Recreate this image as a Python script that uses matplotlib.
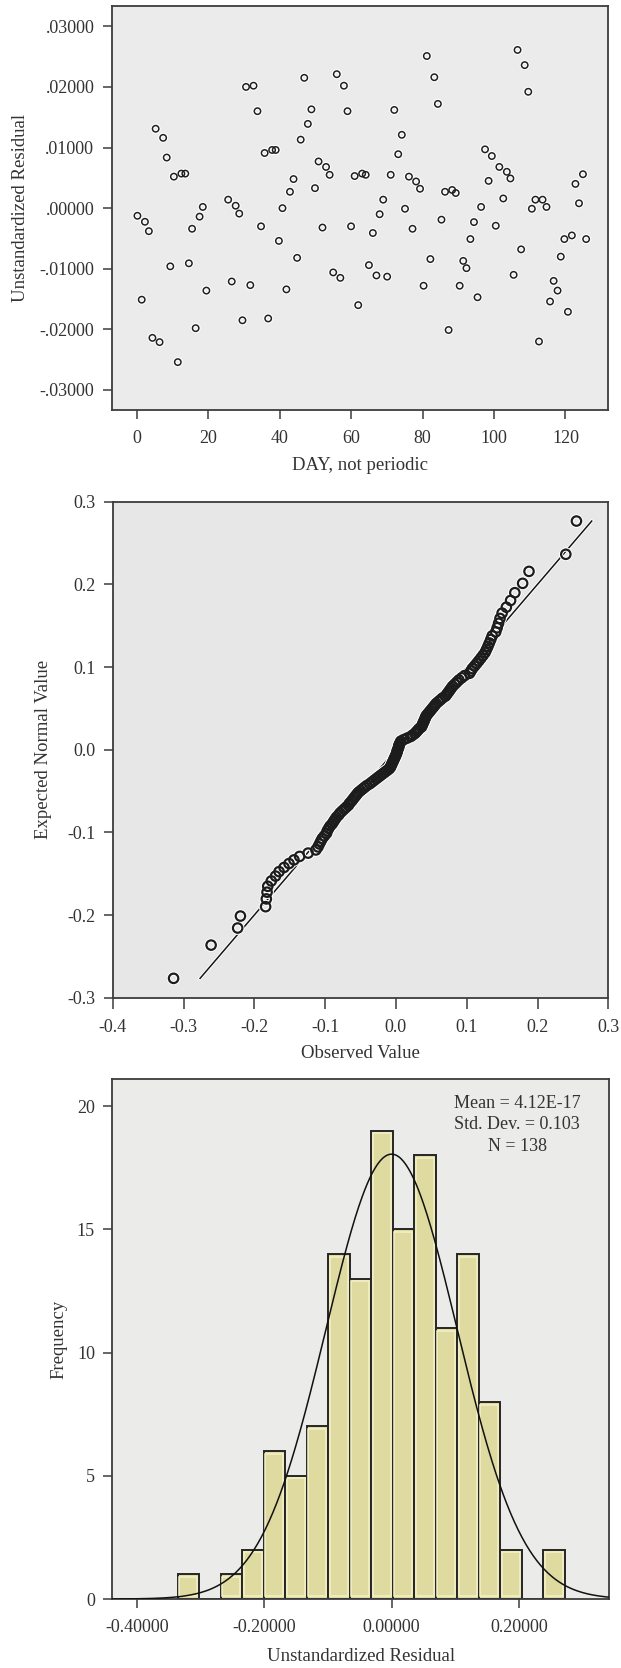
import matplotlib
matplotlib.use("Agg")
import matplotlib.pyplot as plt
import matplotlib.patheffects as pe
from matplotlib.ticker import FuncFormatter
import numpy as np
from statistics import NormalDist

plt.rcParams['font.family'] = ['Liberation Serif', 'DejaVu Serif']

# ---------------- Panel 1: residuals vs day ----------------
day = [0.2, 1.4, 2.3, 3.4, 4.4, 5.3, 6.4, 7.4, 8.4, 9.4,
       10.4, 11.5, 12.5, 13.6, 14.6, 15.5, 16.5, 17.6, 18.5, 19.5,
       25.6, 26.6, 27.7, 28.7, 29.6, 30.6, 31.8, 32.7, 33.8, 34.8,
       35.8, 36.8, 37.9, 38.9, 39.8, 40.8, 41.9, 42.9, 43.9, 44.9,
       45.9, 46.9, 47.9, 48.9, 49.9, 50.9, 52.0, 53.0, 54.0, 55.0,
       56.0, 57.0, 58.0, 59.0, 60.0, 61.0, 62.0, 63.1, 64.1, 65.0,
       66.1, 67.1, 68.0, 69.0, 70.1, 71.1, 72.1, 73.2, 74.2, 75.1,
       76.2, 77.2, 78.2, 79.3, 80.3, 81.2, 82.2, 83.3, 84.3, 85.3,
       86.3, 87.3, 88.3, 89.3, 90.4, 91.4, 92.3, 93.4, 94.4, 95.4,
       96.4, 97.5, 98.5, 99.4, 100.5, 101.5, 102.6, 103.6, 104.6, 105.5,
       106.6, 107.6, 108.6, 109.6, 110.6, 111.6, 112.6, 113.6, 114.7, 115.7,
       116.7, 117.8, 118.7, 119.7, 120.7, 121.8, 122.8, 123.8, 124.9, 125.8]
resid_day = [-0.00126, -0.0151, -0.00225, -0.0038, -0.0214, 0.0131, -0.0221, 0.0116, 0.00835, -0.0096,
             0.0052, -0.0254, 0.0057, 0.0057, -0.0091, -0.0034, -0.0198, -0.0014, 0.0002, -0.0136,
             0.0014, -0.0121, 0.0004, -0.0009, -0.0185, 0.0200, -0.0127, 0.0202, 0.0160, -0.0030,
             0.0091, -0.0182, 0.0096, 0.0096, -0.0054, 0.0000, -0.0134, 0.0027, 0.0048, -0.0082,
             0.0113, 0.0215, 0.0139, 0.0163, 0.0033, 0.0077, -0.0032, 0.0068, 0.0055, -0.0106,
             0.0221, -0.0115, 0.0202, 0.0160, -0.0030, 0.0053, -0.0160, 0.0057, 0.0055, -0.0094,
             -0.0041, -0.0111, -0.0010, 0.0014, -0.0113, 0.0055, 0.0162, 0.0089, 0.0121, -0.0001,
             0.0052, -0.0034, 0.0044, 0.0032, -0.0128, 0.0251, -0.0084, 0.0216, 0.0172, -0.0019,
             0.0027, -0.0201, 0.0030, 0.0025, -0.0128, -0.0087, -0.0099, -0.0051, -0.0023, -0.0147,
             0.0002, 0.0097, 0.0045, 0.0086, -0.0029, 0.0068, 0.0016, 0.0060, 0.0049, -0.0110,
             0.0261, -0.0068, 0.0236, 0.0192, -0.0001, 0.0014, -0.0220, 0.0014, 0.0002, -0.0154,
             -0.0120, -0.0136, -0.0080, -0.0051, -0.0171, -0.0045, 0.0040, 0.0008, 0.0056, -0.0051]
day_xticks = [0, 20, 40, 60, 80, 100, 120]
day_yticks = [-0.03, -0.02, -0.01, 0.0, 0.01, 0.02, 0.03]

# ---------------- Panel 2: normal Q-Q plot ----------------
qq_observed = [-0.314, -0.261, -0.2235, -0.2196,
               -0.184, -0.183, -0.182, -0.181, -0.176, -0.170,
               -0.165, -0.158, -0.151, -0.144, -0.136,
               -0.124, -0.113, -0.110, -0.108, -0.106, -0.104, -0.101,
               -0.098, -0.097, -0.095, -0.093, -0.090, -0.088, -0.086, -0.084, -0.081, -0.079, -0.076, -0.073, -0.070, -0.067,
               -0.0655, -0.063, -0.061, -0.059, -0.057, -0.055, -0.053, -0.050, -0.047, -0.044, -0.041, -0.037, -0.034,
               -0.031, -0.028, -0.025, -0.022, -0.019, -0.016, -0.013, -0.010, -0.008, -0.007, -0.006, -0.005, -0.004,
               -0.003, -0.002, -0.001, 0.000, 0.001, 0.0015,
               0.002, 0.003, 0.004, 0.004, 0.005, 0.006, 0.007, 0.011, 0.016, 0.021, 0.024, 0.027, 0.029, 0.031, 0.033,
               0.036, 0.037, 0.038, 0.039, 0.040, 0.041, 0.042, 0.043, 0.045, 0.047, 0.049, 0.051, 0.053, 0.055, 0.057,
               0.060, 0.063, 0.066,
               0.070, 0.072, 0.074, 0.076, 0.078, 0.080, 0.083, 0.086, 0.089, 0.093, 0.097,
               0.104, 0.106, 0.108, 0.111, 0.114, 0.117, 0.120, 0.123, 0.126, 0.128, 0.130, 0.132, 0.134, 0.136,
               0.141, 0.143, 0.145, 0.147, 0.150, 0.156, 0.162, 0.168,
               0.179, 0.188,
               0.240, 0.255]
resid_mean = 0.0
resid_sd = 0.103
qq_ticks_x = [-0.4, -0.3, -0.2, -0.1, 0.0, 0.1, 0.2, 0.3]
qq_ticks_y = [-0.3, -0.2, -0.1, 0.0, 0.1, 0.2, 0.3]

# ---------------- Panel 3: histogram ----------------
hist_first_edge = -0.3360
hist_bin_width = 0.03377
hist_counts = [1, 0, 1, 2, 6, 5, 7, 14, 13, 19, 15, 18, 11, 14, 8, 2, 0, 2]
hist_xticks = [-0.4, -0.2, 0.0, 0.2]
hist_yticks = [0, 5, 10, 15, 20]
stats_lines = ["Mean = 4.12E-17", "Std. Dev. = 0.103", "N = 138"]

# ---------------- figure ----------------
W, H = 621, 1668
fig = plt.figure(figsize=(W / 100, H / 100), dpi=100)


def box(l, r, t, b):
    return [l / W, 1 - b / H, (r - l) / W, (b - t) / H]


ax1 = fig.add_axes(box(111.7, 608.3, 5.7, 410))
ax2 = fig.add_axes(box(112.7, 608.3, 501.7, 997.7))
ax3 = fig.add_axes(box(112.3, 609.0, 1079, 1599))

SPINE = '#3c3c3c'
TXT = '#333333'
TICK_FS = 13
LABEL_FS = 13.5
halo = [pe.Stroke(linewidth=2.6, foreground='white'), pe.Normal()]

for ax, bg in ((ax1, '#ebebeb'), (ax2, '#e7e7e7'), (ax3, '#ebebea')):
    ax.set_facecolor(bg)
    for s in ax.spines.values():
        s.set_color(SPINE)
        s.set_linewidth(1.3)
    ax.tick_params(direction='out', length=6.5, width=1.1, color=SPINE,
                   labelsize=TICK_FS, labelcolor=TXT)

# Panel 1
ax1.plot(day, resid_day, ls='none', marker='o', ms=4.6, mfc='none',
         mec='#202020', mew=1.1, path_effects=halo, zorder=3)
ax1.set_xlim(-7, 132)
ax1.set_ylim(-0.0333, 0.0334)
ax1.set_xticks(day_xticks)
ax1.set_yticks(day_yticks)


def dotfmt(v, pos):
    s = f"{v:.5f}"
    if s.startswith("-0."):
        s = "-" + s[2:]
    elif s.startswith("0."):
        s = s[1:]
    return s


ax1.yaxis.set_major_formatter(FuncFormatter(dotfmt))
ax1.tick_params(axis='x', pad=8)
ax1.tick_params(axis='y', pad=6)
ax1.set_xlabel("DAY, not periodic", fontsize=LABEL_FS, color=TXT)
ax1.set_ylabel("Unstandardized Residual", fontsize=LABEL_FS, color=TXT)
ax1.xaxis.set_label_coords(0.5, -0.137)
ax1.xaxis.label.set_va('center')
ax1.yaxis.set_label_coords(-0.183, 0.5)
ax1.yaxis.label.set_va('center')

# Panel 2
obs = np.sort(np.array(qq_observed))
n = len(obs)
nd = NormalDist(resid_mean, resid_sd)
expected = np.array([nd.inv_cdf((i - 0.5) / n) for i in range(1, n + 1)])
lo, hi = expected.min(), expected.max()
ax2.plot([lo, hi], [lo, hi], color='#151515', lw=1.1,
         path_effects=[pe.Stroke(linewidth=2.4, foreground='white'), pe.Normal()], zorder=2)
ax2.plot(obs, expected, ls='none', marker='o', ms=6.8, mfc='none',
         mec='#1c1c1c', mew=1.6, path_effects=[pe.Stroke(linewidth=3.0, foreground='white'), pe.Normal()],
         zorder=3)
ax2.set_xlim(-0.4, 0.3)
ax2.set_ylim(-0.3, 0.3)
ax2.set_xticks(qq_ticks_x)
ax2.set_yticks(qq_ticks_y)
ax2.xaxis.set_major_formatter(FuncFormatter(lambda v, p: f"{v:.1f}"))
ax2.yaxis.set_major_formatter(FuncFormatter(lambda v, p: f"{v:.1f}"))
ax2.tick_params(axis='x', pad=7, length=8)
ax2.tick_params(axis='y', pad=6)
ax2.set_xlabel("Observed Value", fontsize=LABEL_FS, color=TXT)
ax2.set_ylabel("Expected Normal Value", fontsize=LABEL_FS, color=TXT)
ax2.xaxis.set_label_coords(0.5, -0.1135)
ax2.xaxis.label.set_va('center')
ax2.yaxis.set_label_coords(-0.139, 0.5)
ax2.yaxis.label.set_va('center')

# Panel 3
counts = np.array(hist_counts)
lefts = hist_first_edge + hist_bin_width * np.arange(len(counts))
ax3.bar(lefts, counts, width=hist_bin_width, align='edge', color='#dedaa0',
        edgecolor='#262626', linewidth=1.4, zorder=2)
nz = counts > 0
ix = 0.0028
iy = 0.11
ax3.bar(lefts[nz] + ix, counts[nz] - 2 * iy, width=hist_bin_width - 2 * ix, bottom=iy,
        align='edge', fill=False, edgecolor='#f4f1c8', linewidth=1.1, zorder=3)
xs = np.linspace(-0.4386, 0.3414, 400)
pdf = np.exp(-0.5 * ((xs - resid_mean) / resid_sd) ** 2) / (resid_sd * np.sqrt(2 * np.pi))
ax3.plot(xs, counts.sum() * hist_bin_width * pdf, color='#111111', lw=1.1, zorder=4)
ax3.set_xlim(-0.4386, 0.3414)
ax3.set_ylim(0, 21.1)
ax3.set_xticks(hist_xticks)
ax3.set_yticks(hist_yticks)
ax3.xaxis.set_major_formatter(FuncFormatter(lambda v, p: f"{v:.5f}"))
ax3.tick_params(axis='x', pad=8)
ax3.tick_params(axis='y', pad=6)
ax3.set_xlabel("Unstandardized Residual", fontsize=LABEL_FS, color=TXT)
ax3.set_ylabel("Frequency", fontsize=LABEL_FS, color=TXT)
ax3.xaxis.set_label_coords(0.5, -0.1115)
ax3.xaxis.label.set_va('center')
ax3.yaxis.set_label_coords(-0.107, 0.5)
ax3.yaxis.label.set_va('center')
for k, line in enumerate(stats_lines):
    ax3.text(0.197, 20.1 - 0.86 * k, line, ha='center', va='center',
             fontsize=13, color=TXT, zorder=5)

fig.savefig("out.png", dpi=100, facecolor='white')
